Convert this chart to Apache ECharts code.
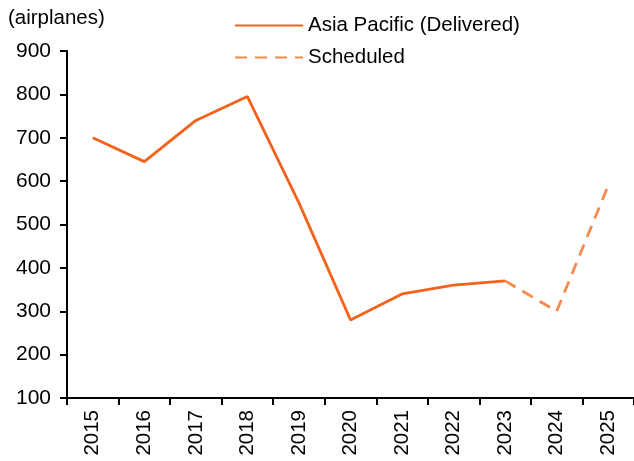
<!DOCTYPE html>
<html><head><meta charset="utf-8">
<script src="https://cdn.jsdelivr.net/npm/echarts@6/dist/echarts.min.js"></script>
<style>html,body{margin:0;padding:0;background:#fff}#c{width:634px;height:461px}</style>
</head><body><div id="c"></div>
<script>
const years = ['2015','2016','2017','2018','2019','2020','2021','2022','2023','2024','2025'];
const delivered = [700, 645, 740, 795, 550, 280, 340, 360, 370, null, null];
const scheduled = [null, null, null, null, null, null, null, null, 370, 300, 590];
const yTicks = {min: 100, max: 900, interval: 100};
const unitLabel = '(airplanes)';

const chart = echarts.init(document.getElementById('c'));
const font = 'Liberation Sans, Arial, sans-serif';
chart.setOption({
  animation: false,
  textStyle: {fontFamily: font},
  grid: {left: 67, right: 0, top: 51, bottom: 63, containLabel: false},
  legend: {
    orient: 'vertical', left: 229, top: 10, itemWidth: 68, itemHeight: 14, itemGap: 11,
    itemStyle: {opacity: 0},
    textStyle: {fontSize: 20.5, color: '#000', fontFamily: font, padding: [0,0,0,0]},
    data: ['Asia Pacific (Delivered)', 'Scheduled']
  },
  graphic: [{type: 'text', left: 8, top: 8, style: {text: unitLabel, fontSize: 20.5, fill: '#000', fontFamily: font}}],
  xAxis: {
    type: 'category', data: years, boundaryGap: true,
    axisLine: {lineStyle: {color: '#000', width: 2}},
    axisTick: {show: true, length: 7, lineStyle: {color: '#000', width: 2}},
    axisLabel: {rotate: 90, fontSize: 20.5, color: '#000', margin: 12, fontFamily: font}
  },
  yAxis: {
    type: 'value', min: yTicks.min, max: yTicks.max, interval: yTicks.interval,
    splitLine: {show: false},
    axisLine: {show: true, lineStyle: {color: '#000', width: 2}},
    axisTick: {show: true, length: 7, lineStyle: {color: '#000', width: 2}},
    axisLabel: {fontSize: 21, color: '#000', margin: 16, fontFamily: font}
  },
  series: [
    {name: 'Asia Pacific (Delivered)', type: 'line', data: delivered, symbol: 'none', connectNulls: false,
     itemStyle: {color: '#F4621B'}, lineStyle: {color: '#F4621B', width: 2.8}},
    {name: 'Scheduled', type: 'line', data: scheduled, symbol: 'none',
     itemStyle: {color: '#F8894C'}, lineStyle: {color: '#F8894C', width: 2.8, type: [12, 8]}}
  ]
});
</script></body></html>
